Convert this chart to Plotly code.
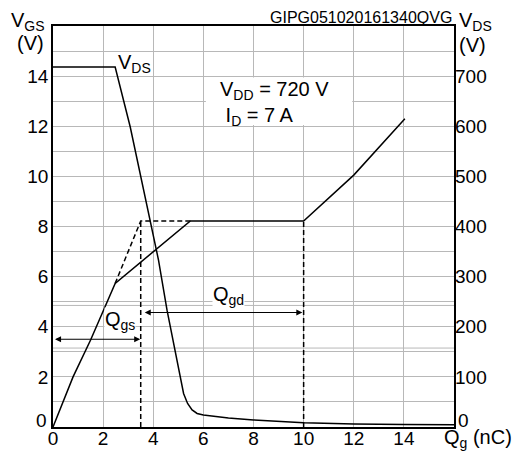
import plotly.graph_objects as go

# ---------------- data ----------------
# Gate voltage VGS (V) vs gate charge Qg (nC)
qg_vgs = [0, 0.8, 1.5, 2.48, 5.48, 10.0, 12.0, 14.04]
vgs = [0, 2.0, 3.47, 5.73, 8.22, 8.22, 10.05, 12.3]

# dashed extrapolation of VGS
qg_vgs_dash = [2.48, 3.5, 5.48]
vgs_dash = [5.73, 8.22, 8.22]

# dashed markers for Qgs / Qgd boundaries
qgs_end = 3.5
qgd_end = 10.0
plateau_v = 8.22

# Drain voltage VDS (V) vs Qg (nC)
qg_vds = [0, 2.48, 3.08, 3.51, 3.88, 4.21, 4.55, 4.88, 5.21, 5.37, 5.55, 5.75, 6.0, 7.0, 8.0, 10.0, 12.0, 14.0, 16.0]
vds = [718, 718, 599, 499, 413, 333, 233, 147, 67, 47, 34, 27, 24, 18, 14, 8.5, 6, 5, 4.5]

# arrow levels (V on left axis)
qgs_arrow_v = 3.5
qgd_arrow_v = 4.57

x_ticks = [0, 2, 4, 6, 8, 10, 12, 14]
y_ticks = list(range(0, 17))
# "0" labels are drawn separately (slightly raised, as in the reference)
y_ticktext = [str(v) if (v % 2 == 0 and 0 < v <= 14) else "" for v in y_ticks]
y2_ticks = [100, 200, 300, 400, 500, 600, 700]

extra_grid_v = [3.15, 4.85]

FONT = "Arial, Liberation Sans, sans-serif"
GRID = "#b8b8b8"

# ---------------- figure ----------------
fig = go.Figure()

L, R, T, B = 53, 454, 26, 427


def px(x):
    return (x - L) / (R - L)


def py(y):
    return (B - y) / (B - T)


line_style = dict(color="black", width=1.5)
dash_style = dict(color="black", width=1.5, dash="5px,3px")

fig.add_trace(go.Scatter(x=qg_vgs, y=vgs, mode="lines", line=line_style,
                         showlegend=False, hoverinfo="skip"))
fig.add_trace(go.Scatter(x=qg_vgs_dash, y=vgs_dash, mode="lines", line=dash_style,
                         showlegend=False, hoverinfo="skip"))
fig.add_trace(go.Scatter(x=[qgs_end, qgs_end], y=[0, plateau_v], mode="lines", line=dash_style,
                         showlegend=False, hoverinfo="skip"))
fig.add_trace(go.Scatter(x=[qgd_end, qgd_end], y=[0, plateau_v], mode="lines", line=dash_style,
                         showlegend=False, hoverinfo="skip"))
fig.add_trace(go.Scatter(x=qg_vds, y=vds, mode="lines", line=line_style, yaxis="y2",
                         showlegend=False, hoverinfo="skip"))

# white box behind the VDD / ID text (hides grid)
fig.add_shape(type="rect", xref="x", yref="y", x0=6.1, x1=11.94, y0=12.05, y1=13.95,
              fillcolor="white", line=dict(width=0), layer="between")

for v in extra_grid_v:
    fig.add_shape(type="line", xref="x", yref="y", x0=0, x1=16, y0=v, y1=v,
                  line=dict(color=GRID, width=1), layer="below")

annos = []
# arrows
annos.append(dict(x=qgs_end - 0.02, y=qgs_arrow_v, ax=0.02, ay=qgs_arrow_v, xref="x", yref="y",
                  axref="x", ayref="y", text="", showarrow=True, arrowside="end+start",
                  arrowhead=2, arrowsize=1.1, arrowwidth=1.1, arrowcolor="black",
                  standoff=0, startstandoff=0))
annos.append(dict(x=qgd_end - 0.05, y=qgd_arrow_v, ax=qgs_end + 0.1, ay=qgd_arrow_v, xref="x", yref="y",
                  axref="x", ayref="y", text="", showarrow=True, arrowside="end+start",
                  arrowhead=2, arrowsize=1.1, arrowwidth=1.1, arrowcolor="black",
                  standoff=0, startstandoff=0))

# text labels in plot
txt = dict(family=FONT, size=20, color="black")
annos.append(dict(x=px(116), y=py(64), xref="paper", yref="paper", text="V<sub>DS</sub>",
                  showarrow=False, xanchor="left", yanchor="middle", font=txt))
annos.append(dict(x=px(218), y=py(103), xref="paper", yref="paper",
                  text="V<sub>DD</sub> = 720 V<br> I<sub>D</sub> = 7 A", align="left",
                  showarrow=False, xanchor="left", yanchor="middle", font=txt))
annos.append(dict(x=px(228), y=py(295), xref="paper", yref="paper", text="Q<sub>gd</sub>",
                  showarrow=False, xanchor="center", yanchor="middle", font=txt,
                  bgcolor="white", borderpad=0))
annos.append(dict(x=px(120), y=py(320), xref="paper", yref="paper", text="Q<sub>gs</sub>",
                  showarrow=False, xanchor="center", yanchor="middle", font=txt,
                  bgcolor="white", borderpad=0))

# zero labels of the two vertical axes
tick_font = dict(family=FONT, size=19, color="black")
annos.append(dict(x=px(48), y=py(420), xref="paper", yref="paper", text="0",
                  showarrow=False, xanchor="right", yanchor="middle", font=tick_font, borderpad=0))
annos.append(dict(x=px(457), y=py(420), xref="paper", yref="paper", text="0",
                  showarrow=False, xanchor="left", yanchor="middle", font=tick_font, borderpad=0))

# axis titles
annos.append(dict(x=px(9), y=py(22), xref="paper", yref="paper", text="V<sub>GS</sub>",
                  showarrow=False, xanchor="left", yanchor="middle", font=txt))
annos.append(dict(x=px(15), y=py(43), xref="paper", yref="paper", text="(V)",
                  showarrow=False, xanchor="left", yanchor="middle", font=txt))
annos.append(dict(x=px(457), y=py(22), xref="paper", yref="paper", text="V<sub>DS</sub>",
                  showarrow=False, xanchor="left", yanchor="middle", font=txt))
annos.append(dict(x=px(457), y=py(45), xref="paper", yref="paper", text="(V)",
                  showarrow=False, xanchor="left", yanchor="middle", font=txt))
annos.append(dict(x=px(442), y=py(438), xref="paper", yref="paper", text="Q<sub>g</sub> (nC)",
                  showarrow=False, xanchor="left", yanchor="middle", font=txt))
annos.append(dict(x=px(454), y=py(18), xref="paper", yref="paper", text="GIPG051020161340QVG",
                  showarrow=False, xanchor="right", yanchor="middle",
                  font=dict(family=FONT, size=16, color="black")))

fig.update_layout(
    width=518, height=452,
    margin=dict(l=L, r=518 - R, t=T, b=452 - B, autoexpand=False),
    paper_bgcolor="white", plot_bgcolor="white",
    font=dict(family=FONT, size=19, color="black"),
    annotations=annos,
    xaxis=dict(range=[0, 16], tickvals=x_ticks, showgrid=True, gridcolor=GRID, gridwidth=1.3,
               showline=True, linecolor="black", linewidth=1.5, mirror=True, ticks="",
               zeroline=False, tickfont=dict(size=19), fixedrange=True, automargin=False,
               ticklabelstandoff=-7),
    yaxis=dict(range=[0, 16], tickvals=y_ticks, ticktext=y_ticktext, showgrid=True,
               gridcolor=GRID, gridwidth=1.3, showline=True, linecolor="black", linewidth=1.5,
               mirror=True, ticks="", zeroline=False, tickfont=dict(size=19), fixedrange=True,
               automargin=False, ticklabelstandoff=-1),
    yaxis2=dict(range=[0, 800], tickvals=y2_ticks, overlaying="y", side="right", showgrid=False,
                showline=False, ticks="", zeroline=False, tickfont=dict(size=19), fixedrange=True,
                automargin=False),
)

fig.write_html("out.html")
